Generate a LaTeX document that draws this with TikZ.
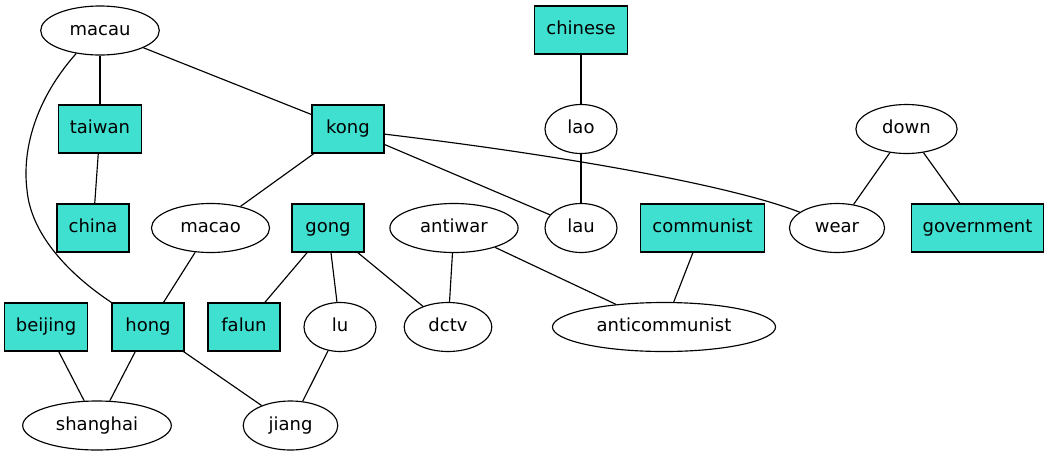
\documentclass[tikz,border=0pt]{standalone}
\usepackage{fontspec}
\setmainfont{DejaVu Sans}
\usetikzlibrary{shapes.geometric}
\definecolor{turq}{HTML}{40E0D0}
\tikzset{
	box/.style={draw,fill=turq,rectangle,minimum width=72pt,minimum height=48pt,inner xsep=11.5pt,text height=13.5pt,text depth=4.5pt},
	oval/.style={draw,ellipse,minimum width=72pt,minimum height=49pt,inner xsep=11.5pt,inner ysep=0pt,text height=13.5pt,text depth=4.5pt}
}
\begin{document}
\begin{tikzpicture}[x=1pt,y=-1pt,line width=1.15pt,font=\fontsize{18}{21}\selectfont]
\useasboundingbox (0,0) rectangle (1049,456);
\foreach \n/\x/\y in {chinese/581/30,taiwan/100/129,kong/348/129,china/93/228,gong/328/228,
	communist/702.5/228,government/977.5/228,beijing/46/327,hong/148/327,falun/244/327}{
	\node[box] (\n) at (\x,\y) {\n};
}
\foreach \n/\x/\y in {macau/100/30.5,lao/581/129,down/906.5/129,macao/210.5/228,antiwar/454/228,
	lau/581/228,wear/837/228,lu/340/327,dctv/448/327,anticommunist/664/327,shanghai/97/425.5,jiang/290.5/425.5}{
	\node[oval] (\n) at (\x,\y) {\n};
}
\foreach \a/\b in {macau/taiwan,macau/kong,taiwan/china,chinese/lao,lao/lau,kong/macao,kong/lau,
	down/wear,down/government,macao/hong,gong/falun,gong/lu,gong/dctv,antiwar/dctv,
	antiwar/anticommunist,communist/anticommunist,beijing/shanghai,hong/shanghai,hong/jiang,lu/jiang}{
	\draw (\a) -- (\b);
}
% the two bent edges
\draw (macau.224) .. controls (35,100) and (22,150) .. (27,190) .. controls (31,235) and (70,275) .. (hong.north west);
\draw (kong.-8) .. controls (560,155) and (730,185) .. (wear.157);
\end{tikzpicture}
\end{document}
